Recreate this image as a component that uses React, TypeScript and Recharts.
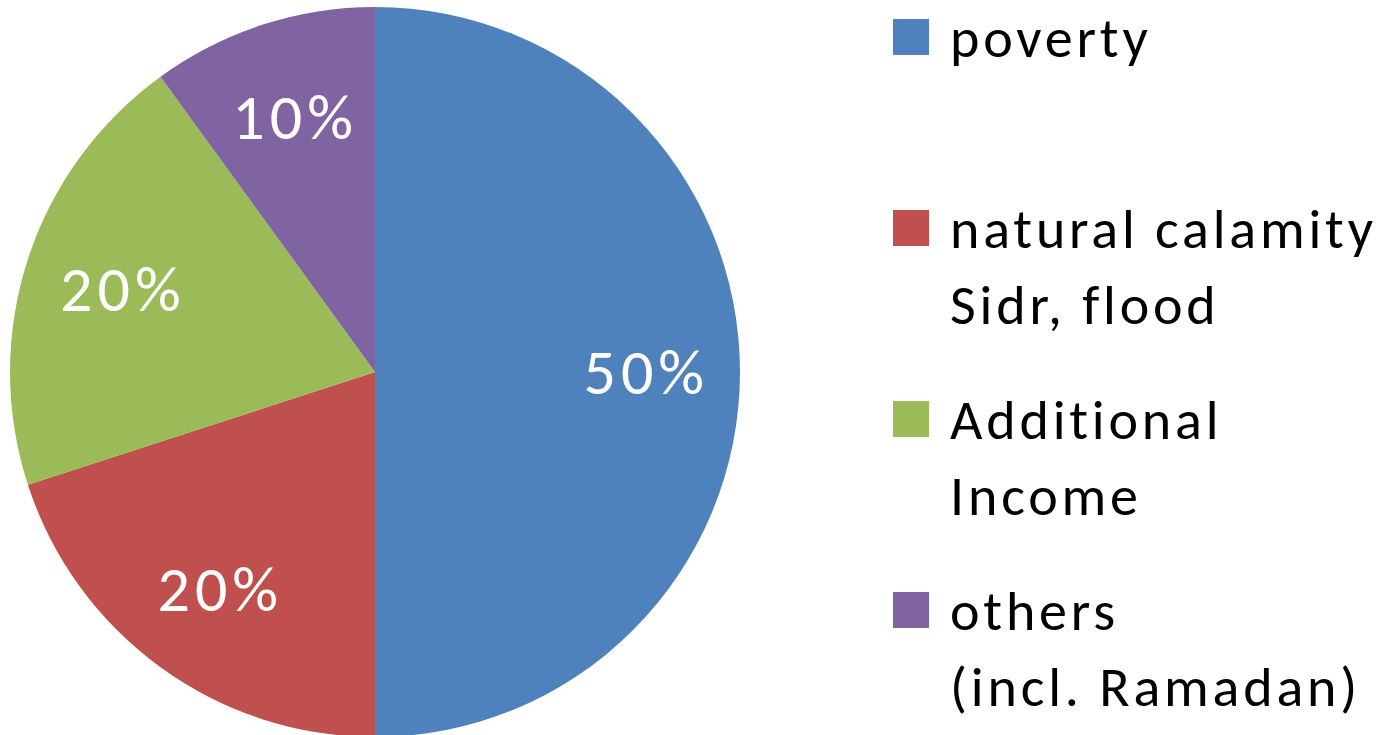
import React from 'react';
import { PieChart, Pie, Cell, Legend } from 'recharts';

const categories = ['poverty', 'natural calamity\nSidr, flood', 'Additional\nIncome', 'others\n(incl. Ramadan)'];
const shares = [50, 20, 20, 10];
const colors = ['#4F81BD', '#C0504D', '#9BBB59', '#8064A2'];

const data = categories.map((name, i) => ({ name, value: shares[i] }));

const FONT = 'Carlito, Lato, "Open Sans", sans-serif';
const RAD = Math.PI / 180;

const renderLabel = ({ cx, cy, midAngle, outerRadius, value }: any) => {
  const r = outerRadius * 0.735;
  const x = cx + r * Math.cos(-midAngle * RAD);
  const y = cy + r * Math.sin(-midAngle * RAD);
  return (
    <text x={x + 3} y={y} fill="#fff" textAnchor="middle" dominantBaseline="central" fontSize={64} letterSpacing={5} fontFamily={FONT}>
      {`${value}%`}
    </text>
  );
};

const LegendContent = () => (
  <div style={{ fontFamily: FONT, fontSize: 56, letterSpacing: 3.8, color: '#000', position: 'relative', width: 500, height: 735 }}>
    {data.map((d, i) => (
      <div key={d.name} style={{ position: 'absolute', left: 0, top: 19 + i * 191, display: 'flex', alignItems: 'flex-start' }}>
        <div style={{ width: 36, height: 36, background: colors[i], flexShrink: 0 }} />
        <div style={{ marginLeft: 21, marginTop: -19, lineHeight: '76px', whiteSpace: 'pre' }}>{d.name}</div>
      </div>
    ))}
  </div>
);

export default function App() {
  return (
    <div style={{ position: 'absolute', left: 0, top: 0, width: 1394, height: 735, overflow: 'hidden', background: '#fff' }}>
      <PieChart width={1394} height={735} margin={{ top: 0, right: 0, bottom: 0, left: 0 }}>
        <Pie
          data={data}
          dataKey="value"
          nameKey="name"
          cx={375}
          cy={372}
          outerRadius={365}
          startAngle={90}
          endAngle={-270}
          stroke="none"
          label={renderLabel}
          labelLine={false}
          isAnimationActive={false}
        >
          {data.map((d, i) => (
            <Cell key={d.name} fill={colors[i]} />
          ))}
        </Pie>
        <Legend
          content={<LegendContent />}
          layout="vertical"
          align="right"
          verticalAlign="top"
          wrapperStyle={{ left: 893, top: 0, width: 500 }}
        />
      </PieChart>
    </div>
  );
}
